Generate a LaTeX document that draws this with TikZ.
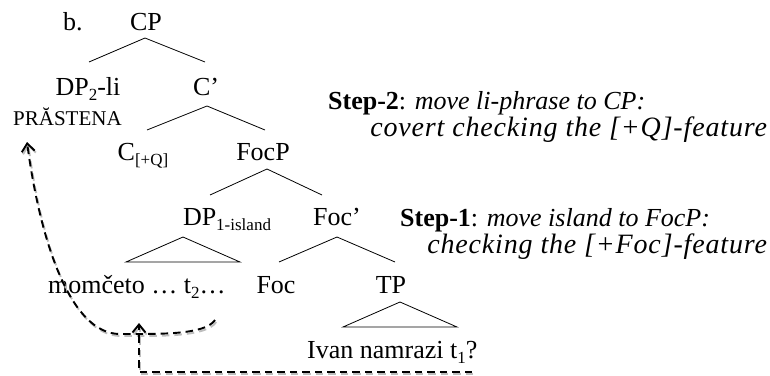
\documentclass[tikz,border=0pt]{standalone}
\usepackage{fontspec}
\setmainfont{Liberation Serif}
\usetikzlibrary{arrows.meta,calc}
\newcommand{\sbs}[1]{\raisebox{-0.2em}{\fontsize{17}{17}\selectfont #1}}
\definecolor{shadowgray}{RGB}{190,190,190}
\begin{document}
\begin{tikzpicture}[x=1pt,y=-1pt,
  every node/.style={inner sep=0pt, font=\fontsize{26}{30}\selectfont},
  lab/.style={anchor=base},
  lw/.style={anchor=base west},
  wide/.style={anchor=base east, font=\fontsize{28}{32}\selectfont\addfontfeature{LetterSpace=3}},
  tl/.style={line width=0.8pt},
  mv/.style={line width=1.9pt, dash pattern=on 7.5pt off 5pt},
  tip/.style={-{Straight Barb[length=8pt,width=13pt,line width=1.9pt]}}]
\useasboundingbox (0,0) rectangle (770,375);
% tree labels
\node[lw] (b) at (63,30) {b.};
\node[lab] (CP) at (146,30) {CP};
\node[lab] (DP2) at (88,95) {DP\sbs{2}-li};
\node[lab] (Cb) at (206,95) {C’};
\node[lw, font=\fontsize{21}{24}\selectfont] (PR) at (13,125) {PRĂSTENA};
\node[lab] (CQ) at (143,160) {C\sbs{[+Q]}};
\node[lab] (FocP) at (263,160) {FocP};
\node[lab] (DP1) at (227,225) {DP\sbs{1-island}};
\node[lab] (Focb) at (337,225) {Foc’};
\node[lw] (mom) at (48,293) {momčeto … t\sbs{2}…};
\node[lab] (Foc) at (276,293) {Foc};
\node[lab] (TP) at (391,293) {TP};
\node[lw] (Ivan) at (307,358) {Ivan namrazi t\sbs{1}?};
% step texts
\node[lw] (s2) at (328,109) {\textbf{Step-2}: \textit{move li-phrase to CP:}};
\node[wide] (s2b) at (768,136) {\textit{covert checking the [+Q]-feature}};
\node[lw] (s1) at (400,226) {\textbf{Step-1}: \textit{move island to FocP:}};
\node[wide] (s1b) at (768,253) {\textit{checking the [+Foc]-feature}};
% branches
\draw[tl] ($(DP2.base)+(1,-33)$) -- ($(CP.base)+(-1,8)$) -- ($(Cb.base)+(-1,-33)$);
\draw[tl] ($(CQ.base)+(4,-30)$) -- ($(Cb.base)+(1,11)$) -- ($(FocP.base)+(2,-30)$);
\draw[tl] ($(DP1.base)+(-17,-30)$) -- ($(FocP.base)+(4,9)$) -- ($(Focb.base)+(-15,-30)$);
\draw[tl] ($(Foc.base)+(3,-31)$) -- ($(Focb.base)+(0,12)$) -- ($(TP.base)+(4,-31)$);
\draw[tl] ($(DP1.base)+(-44,12)$) -- ($(mom.base west)+(78,-31)$) -- ($(mom.base west)+(192,-31)$) -- cycle;
\draw[tl] ($(TP.base)+(9,9)$) -- ($(Ivan.base west)+(36,-31)$) -- ($(Ivan.base west)+(150,-31)$) -- cycle;
% movement arrows
\coordinate (t1end) at ($(Ivan.base west)+(165,14)$);
\coordinate (tipA) at ($(mom.base west)+(91,30)$);
\coordinate (curveS) at ($(mom.base west)+(167,27)$);
\coordinate (tipB) at ($(PR.base west)+(14,17)$);
\begin{scope}[transform canvas={shift={(1.2pt,-2pt)}}, shadowgray]
\draw[mv,tip] (t1end) -| (tipA);
\draw[mv,tip] (curveS) .. controls (205,335) and (160,334) .. (120,334) .. controls (70,334) and (40,240) .. (tipB);
\end{scope}
\draw[mv,tip] (t1end) -| (tipA);
\draw[mv,tip] (curveS) .. controls (205,335) and (160,334) .. (120,334) .. controls (70,334) and (40,240) .. (tipB);
\end{tikzpicture}
\end{document}
